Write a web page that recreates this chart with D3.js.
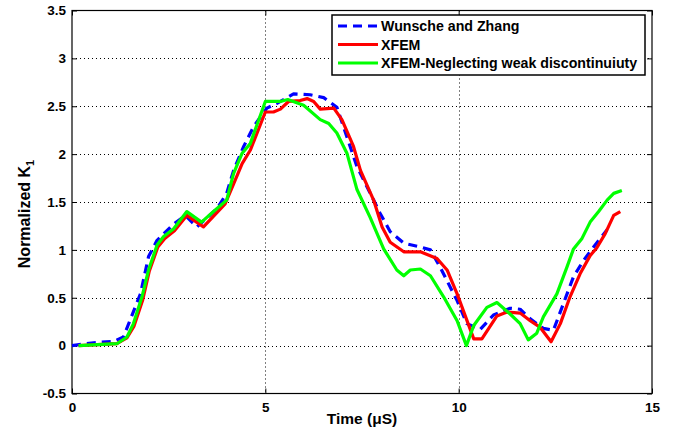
<!DOCTYPE html>
<html lang="en">
<head>
<meta charset="utf-8">
<title>Normalized K1</title>
<script src="https://cdnjs.cloudflare.com/ajax/libs/d3/7.8.5/d3.min.js"></script>
<style>
  body { margin: 0; background: #fff; }
  svg { display: block; font-family: "Liberation Sans", Arial, sans-serif; font-weight: bold; }
</style>
</head>
<body>
<div id="chart"></div>
<script>
// series data (time in µS, normalized K1)
const wunscheT = [0, 0.56, 1.08, 1.33, 1.77, 1.98, 2.2, 2.63, 2.93, 3.23, 3.75, 4.0, 4.18, 4.44, 4.7, 5.04, 5.3, 5.73, 6.16, 6.51, 6.85, 7.11, 7.37, 7.8, 7.97, 8.23, 8.58, 9.01, 9.27, 9.52, 9.96, 10.21, 10.56, 10.9, 11.33, 11.59, 11.85, 12.19, 12.45, 12.71, 12.97, 13.23, 13.49, 13.84];
const wunscheV = [0, 0.03, 0.045, 0.09, 0.54, 0.93, 1.1, 1.27, 1.36, 1.24, 1.43, 1.59, 1.83, 2.08, 2.29, 2.48, 2.53, 2.63, 2.62, 2.59, 2.49, 2.18, 1.87, 1.52, 1.38, 1.19, 1.07, 1.03, 1.0, 0.82, 0.47, 0.23, 0.17, 0.32, 0.39, 0.38, 0.28, 0.18, 0.16, 0.44, 0.72, 0.89, 1.03, 1.21];

const xfemT = [0.17, 1.16, 1.42, 1.6, 1.83, 2.0, 2.22, 2.4, 2.65, 2.97, 3.4, 3.96, 4.18, 4.4, 4.61, 5.0, 5.21, 5.39, 5.6, 5.9, 6.08, 6.25, 6.42, 6.77, 6.98, 7.28, 7.46, 7.8, 8.02, 8.23, 8.58, 9.01, 9.44, 9.7, 9.96, 10.39, 10.6, 10.99, 11.25, 11.59, 11.85, 12.11, 12.39, 12.63, 12.88, 13.14, 13.4, 13.57, 13.79, 14.01, 14.18];
const xfemV = [0, 0.02, 0.08, 0.2, 0.48, 0.78, 1.03, 1.12, 1.2, 1.36, 1.24, 1.48, 1.69, 1.9, 2.04, 2.44, 2.44, 2.47, 2.55, 2.56, 2.58, 2.55, 2.47, 2.48, 2.36, 2.08, 1.83, 1.52, 1.24, 1.08, 0.98, 0.98, 0.91, 0.79, 0.54, 0.07, 0.07, 0.31, 0.35, 0.34, 0.26, 0.19, 0.04, 0.23, 0.51, 0.75, 0.94, 1.02, 1.17, 1.36, 1.40];

const neglectT = [0.17, 1.16, 1.42, 1.59, 1.81, 1.98, 2.2, 2.37, 2.63, 2.97, 3.35, 3.66, 4.0, 4.18, 4.4, 4.61, 5.0, 5.39, 5.58, 5.99, 6.42, 6.64, 6.85, 7.11, 7.37, 7.71, 8.06, 8.4, 8.58, 8.75, 9.01, 9.27, 9.61, 9.96, 10.2, 10.39, 10.73, 10.99, 11.33, 11.59, 11.8, 12.02, 12.19, 12.54, 12.8, 12.97, 13.19, 13.4, 13.62, 13.84, 14.01, 14.22];
const neglectV = [0, 0.02, 0.09, 0.23, 0.51, 0.79, 1.05, 1.14, 1.22, 1.40, 1.29, 1.40, 1.52, 1.80, 2.01, 2.11, 2.55, 2.55, 2.57, 2.51, 2.36, 2.32, 2.22, 2.01, 1.63, 1.34, 1.01, 0.79, 0.73, 0.79, 0.80, 0.73, 0.51, 0.26, 0.0, 0.21, 0.40, 0.45, 0.33, 0.23, 0.06, 0.13, 0.30, 0.54, 0.82, 1.01, 1.12, 1.29, 1.40, 1.52, 1.59, 1.62];

const xTicks = [0, 5, 10, 15];
const yTicks = [-0.5, 0, 0.5, 1, 1.5, 2, 2.5, 3, 3.5];
const legendLabels = ["Wunsche and Zhang", "XFEM", "XFEM-Neglecting weak discontinuiuty"];

const width = 675;
const height = 435;
const marginLeft = 72;
const marginRight = 23;
const marginTop = 10.5;
const marginBottom = 41.5;

const svg = d3.select("#chart")
    .append("svg")
    .attr("width", width)
    .attr("height", height);

const x = d3.scaleLinear().domain([0, 15]).range([marginLeft, width - marginRight]);
const y = d3.scaleLinear().domain([-0.5, 3.5]).range([height - marginBottom, marginTop]);

// grid
const grid = svg.append("g").attr("stroke", "#000").attr("stroke-width", 1).attr("stroke-dasharray", "1,3");
grid.selectAll(".gx").data(xTicks.slice(1, -1)).enter().append("line")
    .attr("x1", d => Math.round(x(d)) + 0.5).attr("x2", d => Math.round(x(d)) + 0.5)
    .attr("y1", y(3.5)).attr("y2", y(-0.5));
grid.selectAll(".gy").data(yTicks.slice(1, -1)).enter().append("line")
    .attr("y1", d => Math.round(y(d)) + 0.5).attr("y2", d => Math.round(y(d)) + 0.5)
    .attr("x1", x(0)).attr("x2", x(15));

// axes
const xAxis = d3.axisBottom(x).tickValues(xTicks).tickSize(-5).tickPadding(9).tickFormat(d3.format("d"));
const yAxis = d3.axisLeft(y).tickValues(yTicks).tickSize(-5).tickPadding(6).tickFormat(d => String(d));

svg.append("g")
    .attr("transform", `translate(0,${y(-0.5)})`)
    .call(xAxis)
    .call(g => g.select(".domain").remove())
    .call(g => g.selectAll("text").attr("font-size", 13.5).attr("font-weight", "bold").attr("fill", "#000"));

svg.append("g")
    .attr("transform", `translate(${x(0)},0)`)
    .call(yAxis)
    .call(g => g.select(".domain").remove())
    .call(g => g.selectAll("text").attr("font-size", 13.5).attr("font-weight", "bold").attr("fill", "#000"));

// mirrored ticks top / right
svg.append("g").attr("transform", `translate(0,${y(3.5)})`)
    .call(d3.axisTop(x).tickValues(xTicks).tickSize(-5).tickFormat(""))
    .call(g => g.select(".domain").remove());
svg.append("g").attr("transform", `translate(${x(15)},0)`)
    .call(d3.axisRight(y).tickValues(yTicks).tickSize(-5).tickFormat(""))
    .call(g => g.select(".domain").remove());

svg.append("rect")
    .attr("x", x(0)).attr("y", y(3.5))
    .attr("width", x(15) - x(0)).attr("height", y(-0.5) - y(3.5))
    .attr("fill", "none").attr("stroke", "#000").attr("stroke-width", 1.2);

// lines
const line = d3.line().x(d => x(d[0])).y(d => y(d[1]));
const series = [
    { t: wunscheT, v: wunscheV, color: "#0000ff", dash: "9,6" },
    { t: xfemT, v: xfemV, color: "#ff0000", dash: null },
    { t: neglectT, v: neglectV, color: "#00ff00", dash: null }
];

svg.append("g").selectAll("path")
    .data(series)
    .enter()
    .append("path")
    .attr("d", s => line(s.t.map((t, i) => [t, s.v[i]])))
    .attr("fill", "none")
    .attr("stroke", s => s.color)
    .attr("stroke-width", 3.2)
    .attr("stroke-linejoin", "round")
    .attr("stroke-dasharray", s => s.dash);

// legend
const legend = svg.append("g").attr("transform", "translate(332,15)");
legend.append("rect")
    .attr("width", 313).attr("height", 60)
    .attr("fill", "#fff").attr("stroke", "#000").attr("stroke-width", 1.5);
const rows = legend.selectAll(".row").data(series).enter().append("g")
    .attr("transform", (d, i) => `translate(0,${11 + i * 18.5})`);
rows.append("line")
    .attr("x1", 6).attr("x2", 46)
    .attr("stroke", d => d.color).attr("stroke-width", 3.2)
    .attr("stroke-dasharray", d => d.dash);
rows.append("text")
    .attr("x", 49).attr("y", 5)
    .attr("font-size", 14.2)
    .text((d, i) => legendLabels[i]);

// axis labels
svg.append("text")
    .attr("x", (x(0) + x(15)) / 2).attr("y", 424)
    .attr("text-anchor", "middle").attr("font-size", 15.5)
    .text("Time (\u03bcS)");

const yl = svg.append("text")
    .attr("transform", `translate(30,${(y(-0.5) + y(3.5)) / 2 + 12}) rotate(-90)`)
    .attr("text-anchor", "middle").attr("font-size", 16);
yl.append("tspan").text("Normalized K");
yl.append("tspan").attr("font-size", 11).attr("dy", 4).text("1");
</script>
</body>
</html>
